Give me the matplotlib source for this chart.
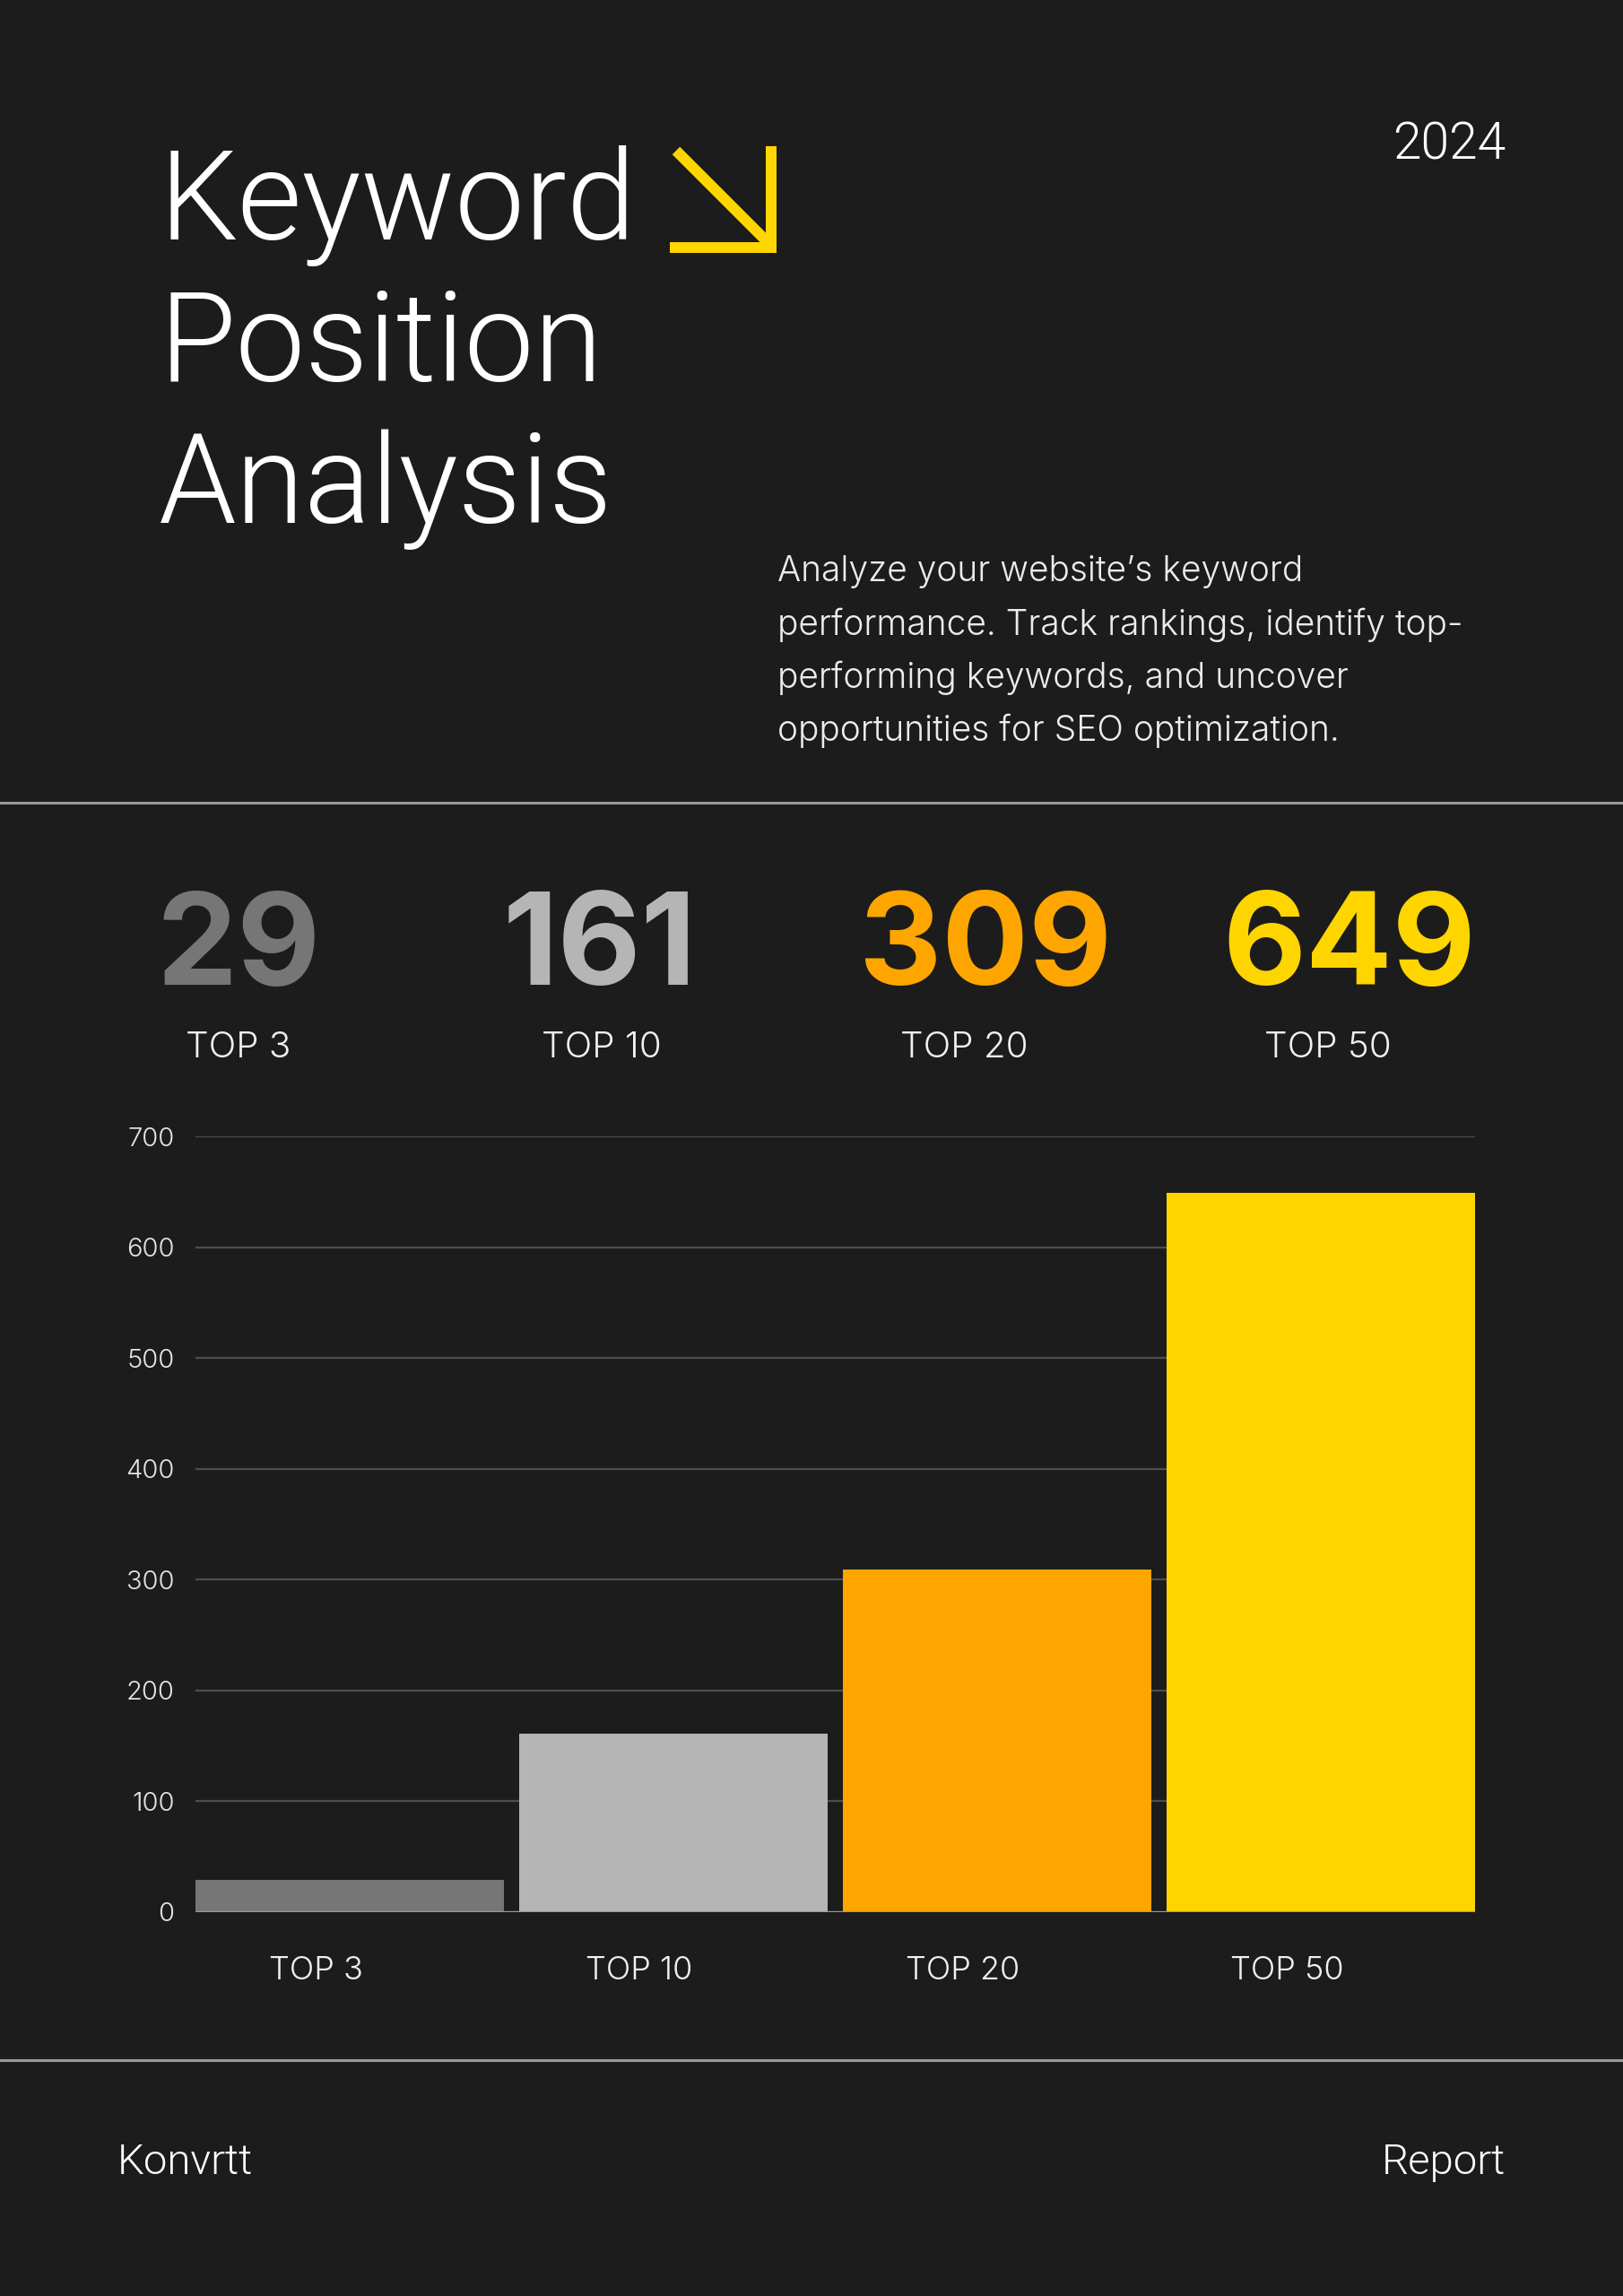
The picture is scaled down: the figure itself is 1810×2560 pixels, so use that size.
import matplotlib
matplotlib.use("Agg")
import matplotlib.pyplot as plt
import matplotlib.font_manager as fm
import matplotlib.transforms as mtransforms
from matplotlib.lines import Line2D

# ---------------- data ----------------
categories = ["TOP 3", "TOP 10", "TOP 20", "TOP 50"]
values = [29, 161, 309, 649]
bar_colors = ["#767676", "#b5b5b5", "#ffa500", "#ffd500"]
y_ticks = [0, 100, 200, 300, 400, 500, 600, 700]
title_lines = ["Keyword", "Position", "Analysis"]
year_text = "2024"
desc_lines = [
    "Analyze your website\u2019s keyword",
    "performance. Track rankings, identify top-",
    "performing keywords, and uncover",
    "opportunities for SEO optimization.",
]
footer_left = "Konvrtt"
footer_right = "Report"

BG = "#1c1c1c"
W, H = 1810, 2560


def _w(f):
    w = f.weight
    if isinstance(w, str):
        w = fm.weight_dict.get(w, 400)
    return int(w)


def pick(families, weight):
    for fam in families:
        cands = [f for f in fm.fontManager.ttflist
                 if f.name == fam and f.style == "normal"
                 and str(f.stretch) in ("normal", "500")]
        if cands:
            best = min(cands, key=lambda f: abs(_w(f) - weight))
            return fm.FontProperties(fname=best.fname)
    return fm.FontProperties(family="DejaVu Sans")


LIGHT = pick(["Inter", "Roboto", "Lato", "Open Sans", "Liberation Sans"], 300)
NARROW = pick(["Roboto", "Inter", "Liberation Sans"], 300)
BOLD = pick(["Inter", "Liberation Sans", "Roboto"], 700)

fig = plt.figure(figsize=(W / 100, H / 100), dpi=100, facecolor=BG)


def P(x, y):
    return x / W, 1 - y / H


def ftext(x, y, s, fp, size, color="white", ha="left", va="baseline"):
    fig.text(*P(x, y), s, fontproperties=fp, size=size, color=color,
             ha=ha, va=va)


# ---------------- header ----------------
for i, line in enumerate(title_lines):
    ftext(177, 267 + i * 158, line, NARROW, 100)

ylw = "#ffd600"
lw_arrow = 12 * 0.72
for (x0, y0), (x1, y1) in [((860, 163), (860, 282)),
                           ((747, 276), (866, 276)),
                           ((754, 168), (856, 270))]:
    a, b = P(x0, y0)
    c, d = P(x1, y1)
    fig.add_artist(Line2D([a, c], [b, d], transform=fig.transFigure,
                          color=ylw, lw=lw_arrow, solid_capstyle="butt"))

ftext(1679, 178, year_text, NARROW, 41, ha="right")

for i, line in enumerate(desc_lines):
    ftext(867, 648 + i * 59.5, line, LIGHT, 28, color="#ececec")

# separators
for yy in (895, 2297):
    _, b = P(0, yy)
    fig.add_artist(Line2D([0, 1], [b, b], transform=fig.transFigure,
                          color="#9a9a9a", lw=2.2))

# ---------------- stats row ----------------
num_centers = [266, 669, 1099, 1505]
lab_centers = [266, 671, 1075, 1481]
for cat, val, col, nc, lc in zip(categories, values, bar_colors,
                                 num_centers, lab_centers):
    ftext(nc, 1098, str(val), BOLD, 103, color=col, ha="center")
    ftext(lc, 1179, cat, LIGHT, 29, color="#f0f0f0", ha="center")

# ---------------- bar chart ----------------
ax_l, ax_r, ax_top, ax_bot = 218, 1645, 1267, 2132
ax = fig.add_axes([ax_l / W, 1 - ax_bot / H, (ax_r - ax_l) / W,
                   (ax_bot - ax_top) / H])
ax.set_facecolor(BG)
x = list(range(len(categories)))
bw = 0.953
ax.bar(x, values, width=bw, color=bar_colors, zorder=2, linewidth=0)
ax.set_xlim(-bw / 2, len(categories) - 1 + bw / 2)
ax.set_ylim(0, 700)
ax.set_yticks(y_ticks)
ax.set_yticklabels([str(t) for t in y_ticks], fontproperties=LIGHT,
                   size=21, color="#e4e4e4")
ax.yaxis.grid(True, color="#4d4d4d", lw=1.6, zorder=0)
ax.set_axisbelow(True)
ax.axhline(0, color="#9a9a9a", lw=1.6, zorder=3)
ax.tick_params(axis="both", length=0)
ax.tick_params(axis="y", pad=17)
ax.tick_params(axis="x", pad=35)
ax.set_xticks(x)
ax.set_xticklabels(categories, fontproperties=LIGHT, size=26,
                   color="#f0f0f0")
off = mtransforms.ScaledTranslation(-38 / 100, 0, fig.dpi_scale_trans)
for lab in ax.get_xticklabels():
    lab.set_transform(lab.get_transform() + off)
for s in ax.spines.values():
    s.set_visible(False)

# ---------------- footer ----------------
ftext(131, 2424, footer_left, NARROW, 34)
ftext(1679, 2424, footer_right, NARROW, 34, ha="right")

fig.savefig("out.png", dpi=100, facecolor=BG)
